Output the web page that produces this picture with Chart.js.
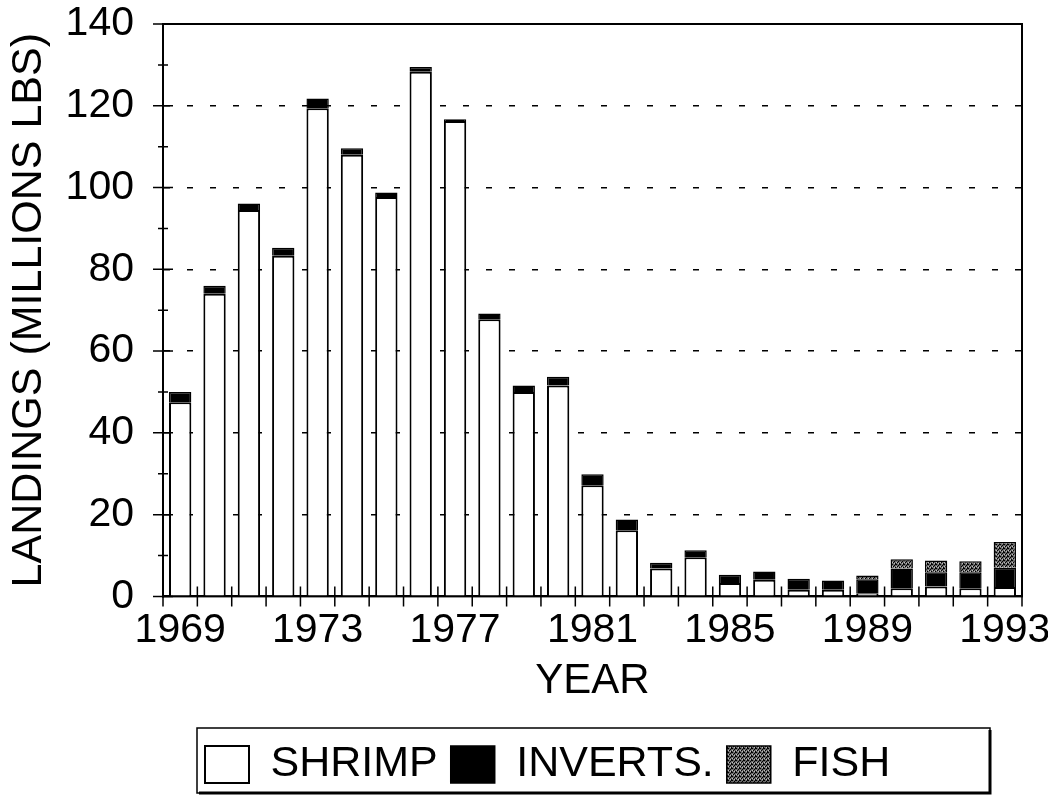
<!DOCTYPE html>
<html>
<head>
<meta charset="utf-8">
<title>Landings 1969-1993</title>
<script src="https://cdn.jsdelivr.net/npm/chart.js@4.4.1/dist/chart.umd.min.js"></script>
<style>
  html, body { margin: 0; padding: 0; background: #fff; }
  #wrap { width: 1048px; height: 796px; }
</style>
</head>
<body>
<div id="wrap"><canvas id="landingsChart"></canvas></div>
<script>
// Landings per year, millions of lbs
const years = ['1969', '1970', '1971', '1972', '1973', '1974', '1975', '1976', '1977',
    '1978', '1979', '1980', '1981', '1982', '1983', '1984', '1985', '1986', '1987',
    '1988', '1989', '1990', '1991', '1992', '1993'];
const shrimp = [47.5, 74, 94.5, 83.3, 119.4, 108, 97.7, 128.3, 116.3, 67.8, 50, 51.6,
    27.2, 16.2, 6.8, 9.6, 3.3, 4.1, 1.6, 1.6, 0.8, 2.0, 2.4, 2.0, 2.3];
const inverts = [2.5, 2, 1.6, 2, 2.4, 1.6, 1.1, 1.2, 0.4, 1.4, 1.6, 2.1,
    2.7, 2.6, 1.4, 1.7, 2.0, 2.0, 2.7, 2.3, 3.4, 4.8, 3.5, 3.9, 4.7];
const fish = [0, 0, 0, 0, 0, 0, 0, 0, 0, 0, 0, 0,
    0, 0, 0, 0, 0, 0, 0, 0, 0.9, 2.3, 2.9, 2.7, 6.3];

const FONT = "'Liberation Sans', Arial, Helvetica, sans-serif";

// grey stipple used for the fish series
function makeStipple() {
    const c = document.createElement('canvas');
    c.width = 4;
    c.height = 4;
    const g = c.getContext('2d');
    g.fillStyle = '#6a6a6a';
    g.fillRect(0, 0, 4, 4);
    g.fillStyle = '#000';
    g.fillRect(0, 0, 1, 1);
    g.fillRect(2, 1, 1, 1);
    g.fillRect(1, 2, 1, 1);
    g.fillRect(3, 3, 1, 1);
    g.fillRect(3, 0, 1, 1);
    g.fillStyle = '#bdbdbd';
    g.fillRect(2, 3, 1, 1);
    g.fillRect(0, 2, 1, 1);
    return g.createPattern(c, 'repeat');
}

// box round the plot, crossing tick marks and the framed legend
const framePlugin = {
    id: 'frame',
    afterLayout(chart) {
        const lg = chart.legend;
        const a = chart.chartArea;
        lg.left = a.left + 29;
        lg.right = a.right - 32;
    },
    afterDraw(chart) {
        const ctx = chart.ctx;
        const a = chart.chartArea;
        const xs = chart.scales.x;
        const ys = chart.scales.y;
        ctx.save();
        ctx.strokeStyle = '#000';
        ctx.lineWidth = 2;
        ctx.strokeRect(a.left, a.top, a.right - a.left, a.bottom - a.top);

        ctx.lineWidth = 1.5;
        ctx.beginPath();
        ys.ticks.forEach((t, i) => {
            const py = ys.getPixelForValue(t.value);
            ctx.moveTo(a.left - 10, py);
            ctx.lineTo(a.left + 10, py);
            if (i > 0) {
                const pm = ys.getPixelForValue((t.value + ys.ticks[i - 1].value) / 2);
                ctx.moveTo(a.left - 5, pm);
                ctx.lineTo(a.left + 5, pm);
            }
        });
        const n = years.length;
        for (let i = 0; i <= n; i++) {
            let px;
            if (i === 0) px = a.left;
            else if (i === n) px = a.right;
            else px = (xs.getPixelForValue(i - 1) + xs.getPixelForValue(i)) / 2;
            ctx.moveTo(px, a.bottom - 10);
            ctx.lineTo(px, a.bottom + 10);
        }
        ctx.stroke();

        // legend outline with heavier right/bottom edge
        const lg = chart.legend;
        const hb = lg.legendHitBoxes[0];
        const bl = hb.left - 8;
        const bt = hb.top - 15;
        const br = lg.right;
        const bb = hb.top + 50;
        ctx.lineWidth = 1.5;
        ctx.strokeRect(bl, bt, br - bl, bb - bt);
        ctx.lineWidth = 3;
        ctx.beginPath();
        ctx.moveTo(br, bt + 2);
        ctx.lineTo(br, bb);
        ctx.lineTo(bl + 2, bb);
        ctx.stroke();
        ctx.restore();
    }
};

const ctx = document.getElementById('landingsChart').getContext('2d');
new Chart(ctx, {
    type: 'bar',
    data: {
        labels: years,
        datasets: [
            {
                label: 'SHRIMP',
                data: shrimp,
                backgroundColor: '#fff',
                borderColor: '#000',
                borderWidth: 2
            },
            {
                label: 'INVERTS.',
                data: inverts,
                backgroundColor: '#000',
                borderColor: '#000',
                borderWidth: 1.5
            },
            {
                label: 'FISH',
                data: fish,
                backgroundColor: makeStipple(),
                borderColor: '#000',
                borderWidth: 1.5
            }
        ]
    },
    options: {
        responsive: true,
        maintainAspectRatio: false,
        animation: false,
        devicePixelRatio: 1,
        layout: { padding: { left: 0, right: 26, top: 24, bottom: 0 } },
        datasets: {
            bar: { barPercentage: 0.65, categoryPercentage: 1 }
        },
        plugins: {
            tooltip: { enabled: false },
            legend: {
                position: 'bottom',
                align: 'start',
                labels: {
                    color: '#000',
                    font: { family: FONT, size: 43 },
                    boxWidth: 44,
                    boxHeight: 37,
                    padding: 13
                }
            }
        },
        scales: {
            x: {
                stacked: true,
                offset: true,
                grid: { display: false },
                border: { display: true, color: '#000', width: 2 },
                ticks: {
                    color: '#000',
                    font: { family: FONT, size: 41 },
                    autoSkip: false,
                    maxRotation: 0,
                    padding: 2,
                    callback: (val, i) => (i % 4 === 0 ? years[i] : '')
                },
                title: {
                    display: true,
                    text: 'YEAR',
                    color: '#000',
                    font: { family: FONT, size: 42 },
                    padding: { top: -1, bottom: 23 }
                },
                afterFit: s => {
                    s.paddingLeft = 0;
                    s.paddingRight = 0;
                }
            },
            y: {
                stacked: true,
                min: 0,
                max: 140,
                grid: {
                    drawTicks: false,
                    lineWidth: 1.5,
                    color: c => (c.tick && (c.tick.value === 0 || c.tick.value === 140)) ? 'rgba(0,0,0,0)' : '#000'
                },
                border: { display: true, color: '#000', width: 2, dash: [6, 17] },
                ticks: {
                    color: '#000',
                    font: { family: FONT, size: 41 },
                    stepSize: 20,
                    padding: 29
                },
                title: {
                    display: true,
                    text: 'LANDINGS (MILLIONS LBS)',
                    color: '#000',
                    font: { family: FONT, size: 43 },
                    padding: { top: 3, bottom: 0 }
                },
                afterFit: s => {
                    s.width = 163;
                    s.paddingTop = 0;
                    s.paddingBottom = 0;
                }
            }
        }
    },
    plugins: [framePlugin]
});
</script>
</body>
</html>
